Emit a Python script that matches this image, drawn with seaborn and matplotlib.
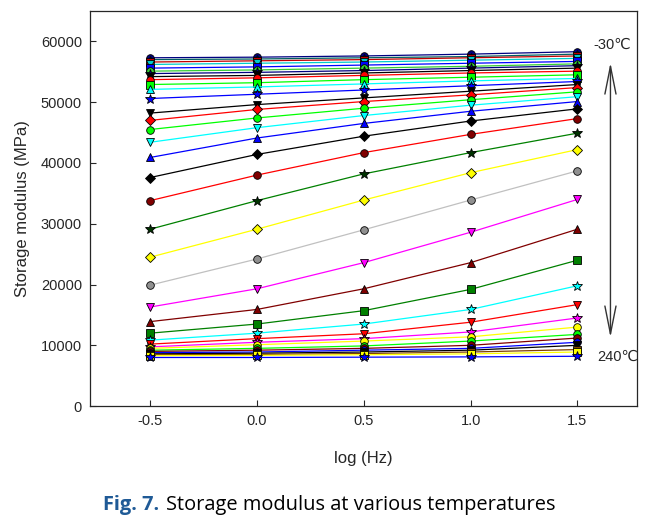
import pandas as pd
import matplotlib
matplotlib.use('Agg')
import matplotlib.pyplot as plt
import seaborn as sns

# log frequency (x axis)
log_freq = [-0.5, 0.0, 0.5, 1.0, 1.5]

# storage modulus (MPa), from -30 C (top) to 240 C (bottom)
glassy = [
    [57300, 57400, 57600, 57900, 58300],
    [57000, 57100, 57300, 57500, 57900],
    [56600, 56800, 57000, 57300, 57600],
    [56200, 56400, 56600, 56900, 57200],
    [55600, 55800, 56100, 56400, 56700],
    [55100, 55300, 55600, 55900, 56300],
    [54700, 54900, 55200, 55600, 56000],
    [54200, 54400, 54800, 55200, 55600],
    [53700, 54000, 54400, 54800, 55100],
    [52900, 53200, 53700, 54100, 54500],
    [52100, 52500, 53000, 53500, 53900],
    [50600, 51300, 52000, 52700, 53400],
]
transition = [
    [48200, 49600, 50700, 51800, 52900],
    [47000, 48800, 50100, 51200, 52400],
    [45500, 47400, 49000, 50400, 51700],
    [43400, 45800, 47800, 49500, 50900],
    [40900, 44100, 46500, 48500, 50100],
    [37600, 41400, 44400, 46900, 48900],
    [33800, 38000, 41700, 44700, 47300],
    [29100, 33800, 38200, 41700, 44900],
    [24500, 29100, 33900, 38400, 42200],
    [19900, 24200, 29000, 33900, 38700],
    [16300, 19300, 23600, 28600, 34000],
    [13900, 15900, 19300, 23600, 29100],
    [12000, 13500, 15700, 19200, 24000],
]
rubbery = [
    [10850, 12000, 13500, 15900, 19800],
    [10200, 11100, 11900, 13800, 16700],
    [9750, 10500, 11100, 12200, 14500],
    [9500, 10100, 10700, 11400, 13000],
    [9200, 9500, 9900, 10700, 11800],
    [9000, 9200, 9500, 10000, 11200],
    [8800, 8900, 9200, 9500, 10500],
    [8600, 8700, 8900, 9200, 10000],
    [8450, 8500, 8650, 8900, 9300],
    [8300, 8350, 8450, 8600, 8900],
    [8000, 8000, 8050, 8100, 8200],
]

x_ticks = [-0.5, 0.0, 0.5, 1.0, 1.5]
x_tick_labels = ['-0.5', '0.0', '0.5', '1.0', '1.5']
y_ticks = [0, 10000, 20000, 30000, 40000, 50000, 60000]

# style per series (line colour, marker, marker face)
colors = (['#000080', '#006060', '#c00000', '#00cccc', '#0000ff', '#33cc33',
           '#000080', '#000000', '#ff0000', '#00ff00', '#00ffff', '#0000ff'] +
          ['#000000', '#ff0000', '#00ff00', '#00ffff', '#0000ff', '#000000',
           '#ff0000', '#008000', '#ffff00', '#c0c0c0', '#ff00ff', '#800000',
           '#008000'] +
          ['#00ffff', '#ff0000', '#ff00ff', '#ffff00', '#00ff00', '#800000',
           '#0000ff', '#000000', '#804000', '#ffff00', '#0000ff'])
markers = (['o', '^', 's', 'v', 's', 'o', '*', 'v', 'o', 's', '^', '*'] +
           ['v', 'D', 'o', 'v', '^', 'D', 'o', '*', 'D', 'o', 'v', '^', 's'] +
           ['*', 'v', '*', 'o', 'o', 'o', 'o', 'v', 's', 's', '*'])
faces = list(colors)
faces[18] = '#800000'
faces[19] = '#003300'
faces[21] = '#909090'

sns.set_style('ticks')
plt.rcParams['font.family'] = ['Liberation Sans', 'DejaVu Sans']

fig = plt.figure(figsize=(6.59, 5.22), dpi=100)
ax = fig.add_axes([0.137, 0.222, 0.83, 0.757])

series = glassy + transition + rubbery
for i, vals in enumerate(series):
    df = pd.DataFrame({'log_freq': log_freq, 'modulus': vals})
    sns.lineplot(data=df, x='log_freq', y='modulus', ax=ax, color=colors[i],
                 marker=markers[i], markersize=7 if markers[i] == '*' else 5.5,
                 markerfacecolor=faces[i], markeredgecolor='black',
                 markeredgewidth=0.6, linewidth=0.9, zorder=3 + i * 0.01)

ax.set_xlim(-0.78, 1.78)
ax.set_ylim(0, 65000)
ax.set_xticks(x_ticks)
ax.set_xticklabels(x_tick_labels)
ax.set_yticks(y_ticks)
ax.tick_params(direction='in', length=4, width=0.8, labelsize=10.5, pad=6)
for s in ax.spines.values():
    s.set_visible(True)
    s.set_linewidth(0.9)
ax.set_xlabel('log (Hz)', fontsize=12, labelpad=16)
ax.set_ylabel('Storage modulus (MPa)', fontsize=12, labelpad=8)

# temperature arrow
ax.annotate('', xy=(0.951, 0.876), xytext=(0.951, 0.167),
            xycoords='axes fraction', textcoords='axes fraction',
            arrowprops=dict(arrowstyle='<->, head_length=2.0, head_width=0.4',
                            color='#333333', lw=1.0))
ax.text(0.955, 0.914, '-30\u2103', transform=ax.transAxes, fontsize=10.5,
        ha='center', va='center')
ax.text(0.965, 0.124, '240\u2103', transform=ax.transAxes, fontsize=10.5,
        ha='center', va='center')

# caption
t1 = fig.text(0.156, 0.033, 'Fig. 7.', fontsize=14.4, fontweight='bold',
              color='#1f5a96', family='Open Sans', va='center')
ax.annotate('Storage modulus at various temperatures', xy=(1, 0.5),
            xycoords=t1, xytext=(5, 0), textcoords='offset points',
            fontsize=14.4, family='Open Sans', va='center', color='black')

fig.savefig('out.png', dpi=100)
